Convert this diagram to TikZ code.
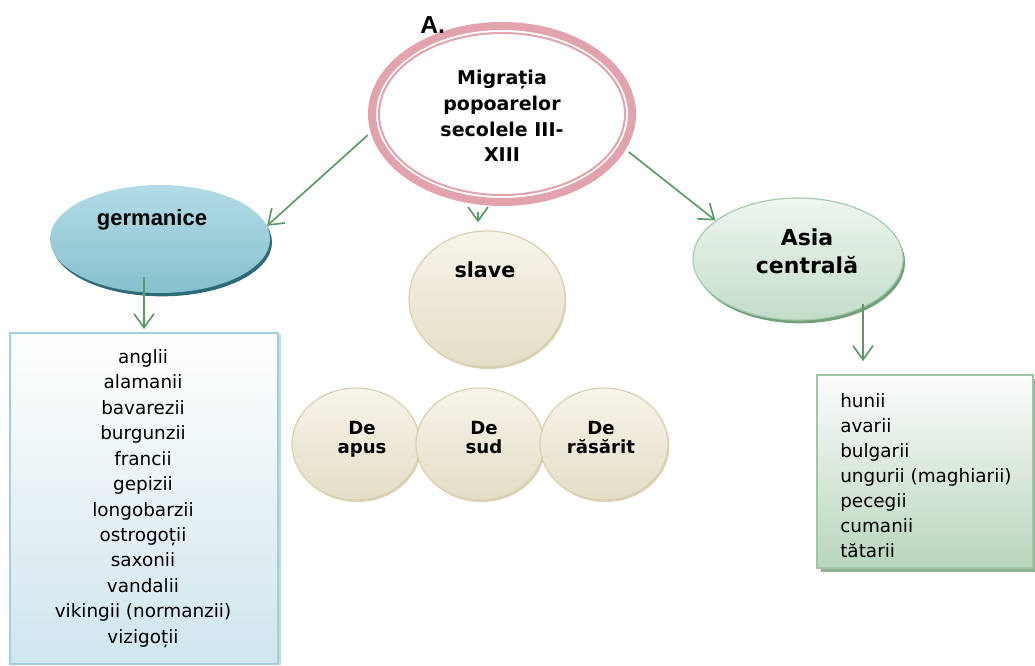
\documentclass[tikz,border=0pt]{standalone}
\usepackage{fontspec}
\setmainfont{DejaVu Sans}
\newfontfamily\arialfam{Liberation Sans}
\usetikzlibrary{arrows.meta,shapes.geometric,shadows}
\definecolor{ringpink}{HTML}{E2A3AD}
\definecolor{arrowgreen}{HTML}{5B9A66}
\definecolor{germtop}{HTML}{B3DCE6}
\definecolor{germbot}{HTML}{86C0CD}
\definecolor{germrim}{HTML}{2D6B78}
\definecolor{beigetop}{HTML}{F7F4EA}
\definecolor{beigebot}{HTML}{E4DDC6}
\definecolor{beigeline}{HTML}{D9D1B2}
\definecolor{asiatop}{HTML}{EEF6EF}
\definecolor{asiabot}{HTML}{C3DDC9}
\definecolor{asialine}{HTML}{A6CBAF}
\definecolor{asiarim}{HTML}{729F7C}
\definecolor{leftline}{HTML}{9FD0DC}
\definecolor{leftbot}{HTML}{D0E5ED}
\definecolor{rightline}{HTML}{9FC6A6}
\definecolor{rightbot}{HTML}{B8D5BC}
\newcommand\fsz[2]{\fontsize{#1}{#2}\selectfont}

\begin{document}
\begin{tikzpicture}[x=0.75pt, y=-0.75pt,
    arr/.style={-{Straight Barb[length=10.5pt,width=15pt]}, draw=arrowgreen, line width=1.25pt},
    blob/.style={ellipse, inner sep=0pt, minimum width=#1},
    beigeball/.style={blob=96pt, minimum height=84pt, top color=beigetop, bottom color=beigebot, draw=beigeline, line width=0.9pt,
        drop shadow={shadow xshift=1pt, shadow yshift=-1.5pt, fill=beigeline, opacity=1}},
    listbox/.style={rectangle, inner sep=0pt, line width=1.3pt},
    listtxt/.style={font=\fsz{13.8pt}{#1}, inner sep=0pt},
]
\useasboundingbox (0,0) rectangle (1035,666);

% central topic
\node[blob=195pt, minimum height=132pt, draw=ringpink, line width=6pt, fill=white] (main) at (502,114) {};
\draw[ringpink, line width=1.5pt] (main.center) ellipse [x radius=92.25pt, y radius=60.75pt];
\node[font=\bfseries\fsz{14.25pt}{19.25pt}, align=center, anchor=north, inner sep=0pt] (maintxt) at (502,70) {Migrația\\popoarelor\\secolele III-\\XIII};
\node[font=\arialfam\bfseries\fsz{18.5pt}{20pt}, anchor=base west, inner sep=0pt] (lblA) at (420,34) {A.};

% three groups
\node[blob=165pt, minimum height=81pt, top color=germtop, bottom color=germbot,
    drop shadow={shadow xshift=1.5pt, shadow yshift=-2.5pt, fill=germrim, opacity=1}] (germ) at (160,239) {};
\node[font=\arialfam\bfseries\fsz{16.5pt}{19pt}, anchor=base, inner sep=0pt] (germtxt) at (152,226) {germanice};

\node[blob=117pt, minimum height=102pt, top color=beigetop, bottom color=beigebot, draw=beigeline, line width=0.9pt,
    drop shadow={shadow xshift=1pt, shadow yshift=-1.5pt, fill=beigeline, opacity=1}] (slave) at (487,299) {};
\node[font=\bfseries\fsz{15.5pt}{18pt}, anchor=base, inner sep=0pt] (slavetxt) at (485,278) {slave};

\node[blob=157.5pt, minimum height=91.5pt, top color=asiatop, bottom color=asiabot, draw=asialine, line width=0.9pt,
    drop shadow={shadow xshift=1.5pt, shadow yshift=-2.5pt, fill=asiarim, opacity=1}] (asia) at (798,259) {};
\node[font=\bfseries\fsz{16.5pt}{21pt}, align=center, anchor=north, inner sep=0pt] (asiatxt) at (807,229) {Asia\\centrală};

% slavic branches
\node[beigeball] (apus) at (356,444) {};
\node[beigeball] (sud) at (480,444) {};
\node[beigeball] (rasarit) at (604,444) {};
\foreach \nm/\xx/\wrd in {apustxt/362/apus, sudtxt/484/sud, rasarittxt/601/răsărit}
    \node[font=\bfseries\fsz{13.6pt}{14.4pt}, align=center, anchor=north, inner sep=0pt] (\nm) at (\xx,421) {De\\\wrd};

% lists
\node[listbox, minimum width=201pt, minimum height=248.25pt, draw=leftline, top color=white, bottom color=leftbot,
    drop shadow={shadow xshift=2.5pt, shadow yshift=-1pt, fill=leftline!70, opacity=1}] (leftbox) at (144,498.5) {};
\node[listtxt=19.1pt, align=center, anchor=north] (germlist) at (143,349)
    {anglii\\alamanii\\bavarezii\\burgunzii\\francii\\gepizii\\longobarzii\\ostrogoții\\saxonii\\vandalii\\vikingii (normanzii)\\vizigoții};

\node[listbox, minimum width=162pt, minimum height=144.75pt, draw=rightline, top color=white!95!rightbot, bottom color=rightbot,
    drop shadow={shadow xshift=3pt, shadow yshift=-3pt, fill=rightline!90!black, opacity=1}] (rightbox) at (925,471.5) {};
\node[listtxt=18.75pt, align=left, anchor=north west] (asialist) at (840,393)
    {hunii\\avarii\\bulgarii\\ungurii (maghiarii)\\pecegii\\cumanii\\tătarii};

% connectors
\draw[arr, shorten <=3pt] (main.188) -- (germ.7);
\draw[arr] ([xshift=-18pt,yshift=-4.5pt]main.south) -- ([xshift=-6.75pt,yshift=6pt]slave.north);
\draw[arr, shorten <=3pt] (main.344) -- (asia.155);
\draw[arr, shorten >=2.25pt] ([yshift=12pt]germ.south -| leftbox.north) -- (leftbox.north);
\draw[arr, shorten >=9.75pt] ([xshift=48.75pt,yshift=12.75pt]asia.south) -- ([xshift=48.75pt]asia.south |- rightbox.north);

\end{tikzpicture}
\end{document}
